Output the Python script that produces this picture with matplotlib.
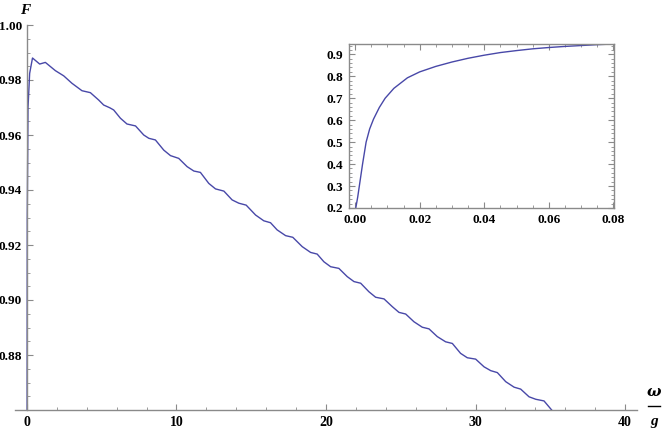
import matplotlib.pyplot as plt
from matplotlib.lines import Line2D
from matplotlib.ticker import MultipleLocator

plt.rcParams['font.family'] = ['Liberation Serif', 'DejaVu Serif']
plt.rcParams['font.weight'] = 'bold'

# main curve
w = [0.0, 0.02, 0.07, 0.18, 0.37, 0.85, 1.23, 1.9, 2.46, 3.01, 3.68, 4.24,
     4.80, 5.13, 5.54, 5.80, 6.25, 6.69, 7.26, 7.81, 8.15, 8.59, 9.15, 9.6,
     10.15, 10.71, 11.16, 11.6, 12.16, 12.61, 13.17, 13.72, 14.17, 14.66,
     15.29, 15.84, 16.29, 16.73, 17.3, 17.78, 18.41, 18.97, 19.41, 19.86,
     20.31, 20.86, 21.42, 21.87, 22.32, 22.87, 23.32, 23.88, 24.43, 24.88,
     25.33, 25.88, 26.44, 26.89, 27.44, 28.0, 28.45, 29.0, 29.45, 30.01,
     30.57, 31.02, 31.46, 32.02, 32.58, 33.02, 33.58, 34.03, 34.58, 35.14,
     35.4]
F = [0.80, 0.93, 0.970, 0.9824, 0.9880, 0.9858, 0.9864, 0.9834, 0.9815,
     0.9788, 0.9761, 0.9754, 0.9727, 0.9709, 0.9699, 0.9691, 0.9661, 0.9640,
     0.9633, 0.9600, 0.9588, 0.9582, 0.9545, 0.9525, 0.9515, 0.9485, 0.9469,
     0.9464, 0.9424, 0.9404, 0.9396, 0.9364, 0.9352, 0.9345, 0.9309, 0.9288,
     0.9281, 0.9255, 0.9234, 0.9228, 0.9194, 0.9173, 0.9167, 0.9139, 0.9121,
     0.9115, 0.9085, 0.9067, 0.9061, 0.9030, 0.9010, 0.9004, 0.8976, 0.8955,
     0.8949, 0.8921, 0.8901, 0.8895, 0.8867, 0.8848, 0.8842, 0.8806, 0.8790,
     0.8785, 0.8757, 0.8743, 0.8736, 0.8703, 0.8683, 0.8676, 0.8648, 0.8639,
     0.8633, 0.8597, 0.8585]

# inset curve
w_in = [0.0002, 0.0008, 0.0013, 0.0023, 0.0034, 0.0045, 0.0057, 0.0075,
        0.0093, 0.012, 0.0162, 0.02, 0.025, 0.03, 0.035, 0.04, 0.045, 0.05,
        0.055, 0.06, 0.065, 0.07, 0.075, 0.08]
F_in = [0.2, 0.25, 0.3, 0.4, 0.5, 0.56, 0.605, 0.658, 0.7, 0.745, 0.793,
        0.82, 0.845, 0.865, 0.882, 0.896, 0.908, 0.917, 0.925, 0.931, 0.936,
        0.94, 0.944, 0.947]

line_col = '#4848a8'
ax_col = '#8a8a8a'

fig = plt.figure(figsize=(6.64, 4.32), dpi=100)
ax = fig.add_axes([15/664, 22/432, 622/664, 385/432])
ax.plot(w, F, color=line_col, lw=1.0)
ax.set_xlim(-0.8, 40.8)
ax.set_ylim(0.86, 1.0)
ax.spines['top'].set_visible(False)
ax.spines['right'].set_visible(False)
ax.spines['left'].set_position(('data', 0))
for s in ('left', 'bottom'):
    ax.spines[s].set_color(ax_col)
    ax.spines[s].set_linewidth(1.0)
ax.set_xticks([0, 10, 20, 30, 40])
ax.xaxis.set_minor_locator(MultipleLocator(2))
ax.set_yticks([0.88, 0.90, 0.92, 0.94, 0.96, 0.98, 1.00])
ax.set_yticklabels(['0.88', '0.90', '0.92', '0.94', '0.96', '0.98', '1.00'])
ax.yaxis.set_minor_locator(MultipleLocator(0.005))
ax.tick_params(which='both', direction='in', color=ax_col, labelsize=10)
ax.tick_params(which='major', length=4, width=0.8, pad=4)
ax.tick_params(which='minor', length=2.2, width=0.6)
ax.tick_params(axis='y', which='both', labelsize=9.5, pad=3.5)

fig.text(25/664, 1 - 11/432, 'F', fontsize=11, style='italic',
         fontweight='bold', ha='center', va='center')
fig.text(654/664, 1 - 392/432, 'ω', fontsize=11, style='italic',
         ha='center', va='center', family=['DejaVu Serif'])
fig.add_artist(Line2D([648/664, 660/664], [1 - 406/432, 1 - 406/432],
                      color='black', lw=1.0))
fig.text(654/664, 1 - 421/432, 'g', fontsize=11, style='italic',
         fontweight='bold', ha='center', va='center')

ins = fig.add_axes([349/664, 1 - 208/432, 265/664, 164/432])
ins.plot(w_in, F_in, color=line_col, lw=1.0)
ins.set_xlim(-0.0019, 0.0802)
ins.set_ylim(0.2, 0.947)
for s in ins.spines.values():
    s.set_color(ax_col)
    s.set_linewidth(1.0)
ins.set_xticks([0.0, 0.02, 0.04, 0.06, 0.08])
ins.set_xticklabels(['0.00', '0.02', '0.04', '0.06', '0.08'])
ins.xaxis.set_minor_locator(MultipleLocator(0.005))
ins.set_yticks([0.2, 0.3, 0.4, 0.5, 0.6, 0.7, 0.8, 0.9])
ins.yaxis.set_minor_locator(MultipleLocator(0.02))
ins.tick_params(which='both', direction='in', color=ax_col, labelsize=9.5,
                top=True, right=True)
ins.tick_params(which='major', length=4, width=0.8, pad=4)
ins.tick_params(which='minor', length=2.2, width=0.6)

fig.savefig('out.png', dpi=100, facecolor='white')
